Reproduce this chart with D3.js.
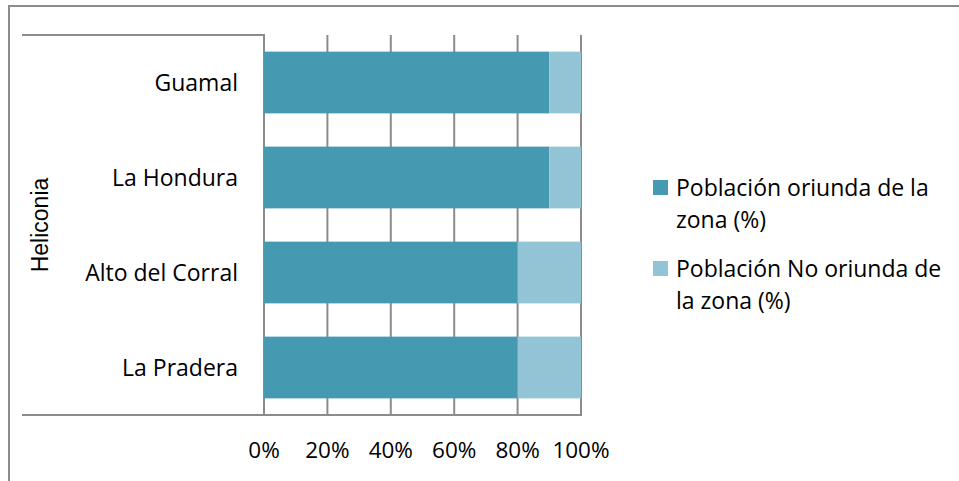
<!DOCTYPE html>
<html>
<head>
<meta charset="utf-8">
<script src="https://cdn.jsdelivr.net/npm/d3@7"></script>
<style>
  body { margin: 0; background: #fff; }
  svg { display: block; }
  text { font-family: "Open Sans", sans-serif; fill: #000; }
</style>
</head>
<body>
<svg id="chart" width="959" height="481"></svg>
<script>
// Origin of the population in the veredas of Heliconia
const categories = ["Guamal", "La Hondura", "Alto del Corral", "La Pradera"];
const oriunda = [90, 90, 80, 80];
const noOriunda = [10, 10, 20, 20];
const seriesNames = ["Población oriunda de la zona (%)", "Población No oriunda de la zona (%)"];
const seriesLines = [["Población oriunda de la", "zona (%)"], ["Población No oriunda de", "la zona (%)"]];
const groupLabel = "Heliconia";
const ticks = [0, 20, 40, 60, 80, 100];
const colors = ["#4599B0", "#93C4D5"];

const svg = d3.select("#chart");

// outer frame
svg.append("rect")
  .attr("x", 9).attr("y", 6)
  .attr("width", 980).attr("height", 500)
  .attr("fill", "none").attr("stroke", "#8c8c8c").attr("stroke-width", 2);

const plotLeft = 264, plotRight = 581, plotTop = 35, plotBottom = 415;

const x = d3.scaleLinear().domain([0, 100]).range([plotLeft, plotRight]);
const y = d3.scaleBand().domain(categories).range([plotTop, plotBottom]).paddingInner(0.35).paddingOuter(0.175);

// vertical gridlines
svg.append("g").selectAll("line").data(ticks).join("line")
  .attr("x1", d => x(d)).attr("x2", d => x(d))
  .attr("y1", plotTop).attr("y2", plotBottom)
  .attr("stroke", "#8c8c8c").attr("stroke-width", 2);

// stacked bars
const stacked = categories.map((c, i) => ({ cat: c, vals: [oriunda[i], noOriunda[i]] }));
const gBars = svg.append("g");
stacked.forEach(row => {
  let acc = 0;
  row.vals.forEach((v, s) => {
    gBars.append("rect")
      .attr("x", x(acc))
      .attr("y", y(row.cat))
      .attr("width", x(acc + v) - x(acc))
      .attr("height", y.bandwidth())
      .attr("fill", colors[s]);
    acc += v;
  });
});

// category axis frame lines
const axisColor = "#8c8c8c";
svg.append("line").attr("x1", 22).attr("x2", plotLeft + 1).attr("y1", plotTop).attr("y2", plotTop)
  .attr("stroke", axisColor).attr("stroke-width", 2);
svg.append("line").attr("x1", 22).attr("x2", plotRight + 1).attr("y1", plotBottom).attr("y2", plotBottom)
  .attr("stroke", axisColor).attr("stroke-width", 2);

// category labels
svg.append("g").selectAll("text").data(categories).join("text")
  .attr("x", 238)
  .attr("y", d => y(d) + y.bandwidth() / 2)
  .attr("dy", "0.36em")
  .attr("text-anchor", "end")
  .attr("font-size", 23)
  .text(d => d);

// outer group label
svg.append("text")
  .attr("transform", `translate(48,${(plotTop + plotBottom) / 2}) rotate(-90)`)
  .attr("text-anchor", "middle")
  .style("font-family", "'Liberation Sans', Arial, sans-serif")
  .attr("font-size", 23)
  .text(groupLabel);

// value axis labels
svg.append("g").selectAll("text").data(ticks).join("text")
  .attr("x", d => x(d))
  .attr("y", 450)
  .attr("dy", "0.36em")
  .attr("text-anchor", "middle")
  .attr("font-size", 22.5)
  .text(d => d + "%");

// legend
const legend = svg.append("g");
const legendY = [188, 269];
seriesNames.forEach((name, i) => {
  legend.append("rect")
    .attr("x", 653).attr("y", legendY[i] - 8)
    .attr("width", 15).attr("height", 15)
    .attr("fill", colors[i]);
  const t = legend.append("text")
    .attr("x", 676).attr("y", legendY[i])
    .attr("font-size", 23);
  seriesLines[i].forEach((ln, k) => {
    t.append("tspan").attr("x", 676).attr("y", legendY[i] + k * 32)
      .attr("dy", "0.36em").text(ln);
  });
});
</script>
</body>
</html>
